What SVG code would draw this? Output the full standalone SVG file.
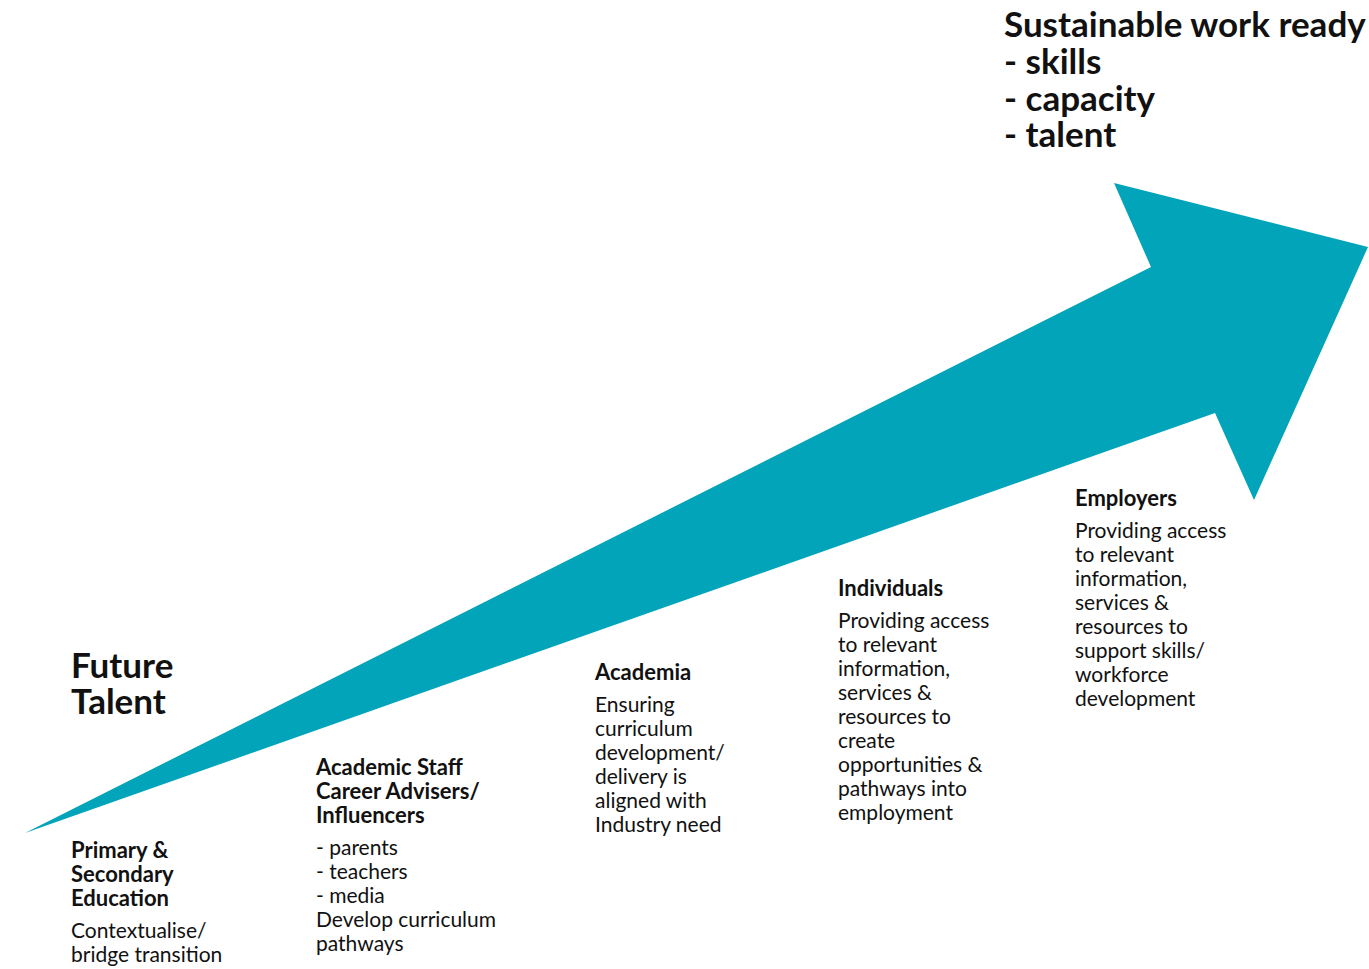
<svg xmlns="http://www.w3.org/2000/svg" width="1369" height="969" viewBox="0 0 1369 969">
<style>
text{font-family:Lato,"Liberation Sans",sans-serif;fill:#111;}
.big{font-size:35px;font-weight:700;}
.h{font-size:22px;font-weight:700;}
.b{font-size:21px;}
.arrow{fill:#02A4B9;}
</style>
<g id="arrow"><polygon class="arrow" points="25,833 1151,267 1114,183 1368,247 1254,500 1215,413"/></g>
<g id="goal"><text class="big" x="1004" y="37">Sustainable work ready</text><text class="big" x="1004" y="74">- skills</text><text class="big" x="1004" y="111">- capacity</text><text class="big" x="1004" y="147">- talent</text></g>
<g id="future-talent"><text class="big" x="71" y="678">Future</text><text class="big" x="71" y="714">Talent</text></g>
<g id="primary"><text class="h" x="71" y="858">Primary &amp;</text><text class="h" x="71" y="882">Secondary</text><text class="h" x="71" y="906">Education</text><text class="b" x="71" y="938">Contextualise/</text><text class="b" x="71" y="962">bridge transition</text></g>
<g id="academic-staff"><text class="h" x="316" y="775">Academic Staff</text><text class="h" x="316" y="799">Career Advisers/</text><text class="h" x="316" y="823">Influencers</text><text class="b" x="316" y="855">- parents</text><text class="b" x="316" y="879">- teachers</text><text class="b" x="316" y="903">- media</text><text class="b" x="316" y="927">Develop curriculum</text><text class="b" x="316" y="951">pathways</text></g>
<g id="academia"><text class="h" x="595" y="680">Academia</text><text class="b" x="595" y="712">Ensuring</text><text class="b" x="595" y="736">curriculum</text><text class="b" x="595" y="760">development/</text><text class="b" x="595" y="784">delivery is</text><text class="b" x="595" y="808">aligned with</text><text class="b" x="595" y="832">Industry need</text></g>
<g id="individuals"><text class="h" x="838" y="596">Individuals</text><text class="b" x="838" y="628">Providing access</text><text class="b" x="838" y="652">to relevant</text><text class="b" x="838" y="676">information,</text><text class="b" x="838" y="700">services &amp;</text><text class="b" x="838" y="724">resources to</text><text class="b" x="838" y="748">create</text><text class="b" x="838" y="772">opportunities &amp;</text><text class="b" x="838" y="796">pathways into</text><text class="b" x="838" y="820">employment</text></g>
<g id="employers"><text class="h" x="1075" y="506">Employers</text><text class="b" x="1075" y="538">Providing access</text><text class="b" x="1075" y="562">to relevant</text><text class="b" x="1075" y="586">information,</text><text class="b" x="1075" y="610">services &amp;</text><text class="b" x="1075" y="634">resources to</text><text class="b" x="1075" y="658">support skills/</text><text class="b" x="1075" y="682">workforce</text><text class="b" x="1075" y="706">development</text></g>
<g id="connectors"></g>
</svg>
